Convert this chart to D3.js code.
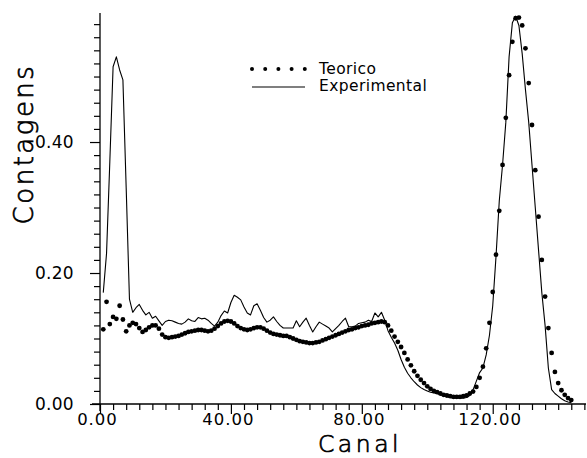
<!DOCTYPE html>
<html>
<head>
<meta charset="utf-8">
<script src="https://cdn.jsdelivr.net/npm/d3@7"></script>
<style>
  body { margin: 0; background: #fff; }
  text { font-family: "DejaVu Sans", sans-serif; fill: #000; }
</style>
</head>
<body>
<svg id="grafico" width="587" height="458"></svg>
<script>
// canal inicial de cada serie (o valor i corresponde ao canal i + primeiroCanal)
var primeiroCanal = 1;

// contagens teoricas (pontos)
var teorico = [
  0.114, 0.156, 0.122, 0.133, 0.130, 0.150, 0.129, 0.111, 0.120, 0.124,
  0.122, 0.116, 0.110, 0.113, 0.117, 0.120, 0.120, 0.115, 0.106, 0.102,
  0.101, 0.102, 0.103, 0.104, 0.106, 0.108, 0.110, 0.111, 0.112, 0.113,
  0.113, 0.112, 0.111, 0.112, 0.115, 0.119, 0.123, 0.126, 0.127, 0.126,
  0.123, 0.119, 0.116, 0.114, 0.113, 0.114, 0.116, 0.117, 0.117, 0.115,
  0.112, 0.109, 0.107, 0.106, 0.105, 0.104, 0.104, 0.102, 0.100, 0.098,
  0.096, 0.095, 0.094, 0.093, 0.093, 0.094, 0.095, 0.097, 0.099, 0.101,
  0.103, 0.105, 0.107, 0.109, 0.111, 0.113, 0.114, 0.116, 0.117, 0.119,
  0.120, 0.121, 0.123, 0.124, 0.125, 0.126, 0.125, 0.120, 0.112, 0.103,
  0.095, 0.087, 0.078, 0.068, 0.059, 0.050, 0.043, 0.037, 0.032, 0.027,
  0.023, 0.020, 0.018, 0.016, 0.014, 0.013, 0.012, 0.011, 0.011, 0.011,
  0.012, 0.013, 0.016, 0.019, 0.026, 0.040, 0.057, 0.085, 0.124, 0.171,
  0.228, 0.295, 0.365, 0.437, 0.502, 0.553, 0.589, 0.590, 0.578, 0.543,
  0.490, 0.426, 0.357, 0.286, 0.220, 0.164, 0.116, 0.078, 0.049, 0.032,
  0.021, 0.014, 0.009, 0.006
];

// contagens experimentais (linha)
var experimental = [
  0.170, 0.230, 0.370, 0.515, 0.530, 0.510, 0.495, 0.330, 0.160, 0.140,
  0.147, 0.152, 0.143, 0.136, 0.140, 0.131, 0.134, 0.127, 0.120, 0.126,
  0.128, 0.127, 0.125, 0.123, 0.122, 0.125, 0.130, 0.127, 0.126, 0.132,
  0.130, 0.131, 0.128, 0.123, 0.119, 0.125, 0.135, 0.142, 0.139, 0.155,
  0.166, 0.163, 0.159, 0.148, 0.139, 0.136, 0.150, 0.153, 0.143, 0.132,
  0.125, 0.128, 0.133, 0.126, 0.120, 0.116, 0.116, 0.116, 0.116, 0.127,
  0.118, 0.125, 0.131, 0.120, 0.110, 0.118, 0.125, 0.122, 0.119, 0.116,
  0.110, 0.115, 0.120, 0.126, 0.131, 0.118, 0.118, 0.119, 0.123, 0.124,
  0.125, 0.128, 0.126, 0.139, 0.133, 0.140, 0.128, 0.112, 0.102, 0.093,
  0.082, 0.068, 0.056, 0.047, 0.040, 0.034, 0.029, 0.025, 0.022, 0.020,
  0.018, 0.017, 0.016, 0.014, 0.012, 0.011, 0.010, 0.009, 0.009, 0.009,
  0.009, 0.010, 0.013, 0.022, 0.035, 0.048, 0.055, 0.075, 0.105, 0.150,
  0.225, 0.310, 0.365, 0.430, 0.530, 0.582, 0.592, 0.578, 0.535, 0.480,
  0.430, 0.365, 0.300, 0.235, 0.170, 0.120, 0.055, 0.022, 0.016, 0.012,
  0.008, 0.005, 0.003, 0.002
];

// marcas dos eixos
var ticksX = [0, 4, 8, 12, 16, 20, 24, 28, 32, 36, 40, 44, 48, 52, 56, 60, 64, 68, 72,
  76, 80, 84, 88, 92, 96, 100, 104, 108, 112, 116, 120, 124, 128, 132, 136, 140, 144, 148];
var rotulosX = [0, 40, 80, 120];
var ticksY = [0, 0.02, 0.04, 0.06, 0.08, 0.10, 0.12, 0.14, 0.16, 0.18, 0.20, 0.22, 0.24,
  0.26, 0.28, 0.30, 0.32, 0.34, 0.36, 0.38, 0.40, 0.42, 0.44, 0.46, 0.48, 0.50, 0.52,
  0.54, 0.56, 0.58];
var rotulosY = [0, 0.2, 0.4];

var legenda = ['Teorico', 'Experimental'];

var svg = d3.select('#grafico');

var x = d3.scaleLinear().domain([0, 148.5]).range([100, 586]);
var y = d3.scaleLinear().domain([0, 0.597]).range([404, 13]);

var fmt = d3.format('.2f');

function ehRotulo(lista, v){
  return lista.some(function(r){ return Math.abs(r - v) < 1e-9; });
}

// eixo X
var eixoX = svg.append('g')
    .attr('transform', 'translate(0,' + y(0) + ')')
    .call(d3.axisBottom(x)
      .tickValues(ticksX)
      .tickSizeOuter(0)
      .tickSize(6)
      .tickPadding(5)
      .tickFormat(function(d){ return ehRotulo(rotulosX, d) ? fmt(d) : ''; }));

eixoX.select('.domain').attr('d', 'M' + (x(0) - 8) + ',0H' + x.range()[1]).attr('stroke-width', 1.3);
eixoX.selectAll('.tick line')
    .attr('y2', function(d){ return ehRotulo(rotulosX, d) ? 10 : 6; })
    .attr('stroke-width', 1.2);
eixoX.selectAll('.tick text')
    .attr('font-size', 16.5)
    .attr('letter-spacing', 1)
    .attr('dy', '0.6em')
    .attr('dx', -3);

// eixo Y
var eixoY = svg.append('g')
    .attr('transform', 'translate(' + x(0) + ',0)')
    .call(d3.axisLeft(y)
      .tickValues(ticksY)
      .tickSizeOuter(0)
      .tickSize(6)
      .tickPadding(20)
      .tickFormat(function(d){ return ehRotulo(rotulosY, d) ? fmt(d) : ''; }));

eixoY.select('.domain').attr('d', 'M0,' + (y(0) + 7) + 'V' + y.range()[1]).attr('stroke-width', 1.3);
eixoY.selectAll('.tick line')
    .attr('x2', function(d){ return ehRotulo(rotulosY, d) ? -10 : -6; })
    .attr('stroke-width', 1.2);
eixoY.selectAll('.tick text')
    .attr('font-size', 17)
    .attr('letter-spacing', 0.3);

// linha experimental
var linha = d3.line()
    .x(function(d, i){ return x(i + primeiroCanal); })
    .y(function(d){ return y(d); });

svg.append('path')
    .datum(experimental)
    .attr('fill', 'none')
    .attr('stroke', '#000')
    .attr('stroke-width', 1.1)
    .attr('stroke-linejoin', 'round')
    .attr('d', linha);

// pontos teoricos
svg.append('g').selectAll('circle').data(teorico).enter().append('circle')
    .attr('cx', function(d, i){ return x(i + primeiroCanal); })
    .attr('cy', function(d){ return y(d); })
    .attr('r', 2.4)
    .attr('fill', '#000');

// titulos dos eixos
svg.append('text')
    .attr('x', 360)
    .attr('y', 452)
    .attr('text-anchor', 'middle')
    .attr('font-size', 23.5)
    .attr('font-weight', 300)
    .attr('stroke', '#000')
    .attr('stroke-width', 0.7)
    .attr('letter-spacing', 3.5)
    .text('Canal');

svg.append('text')
    .attr('transform', 'translate(33,144) rotate(-90)')
    .attr('text-anchor', 'middle')
    .attr('font-size', 26)
    .attr('font-weight', 300)
    .attr('stroke', '#000')
    .attr('stroke-width', 0.7)
    .attr('letter-spacing', 2.5)
    .text('Contagens');

// legenda
var leg = svg.append('g').attr('transform', 'translate(252,0)');

leg.selectAll('circle').data([0, 1, 2, 3, 4]).enter().append('circle')
    .attr('cx', function(d){ return d * 13.2; })
    .attr('cy', 69)
    .attr('r', 2)
    .attr('fill', '#000');

leg.append('line')
    .attr('x1', 0).attr('x2', 53)
    .attr('y1', 87).attr('y2', 87)
    .attr('stroke', '#000')
    .attr('stroke-width', 1.2);

leg.selectAll('text').data(legenda).enter().append('text')
    .attr('x', 67)
    .attr('y', function(d, i){ return 74 + i * 17; })
    .attr('font-size', 15.5)
    .attr('letter-spacing', 0.4)
    .text(function(d){ return d; });
</script>
</body>
</html>
